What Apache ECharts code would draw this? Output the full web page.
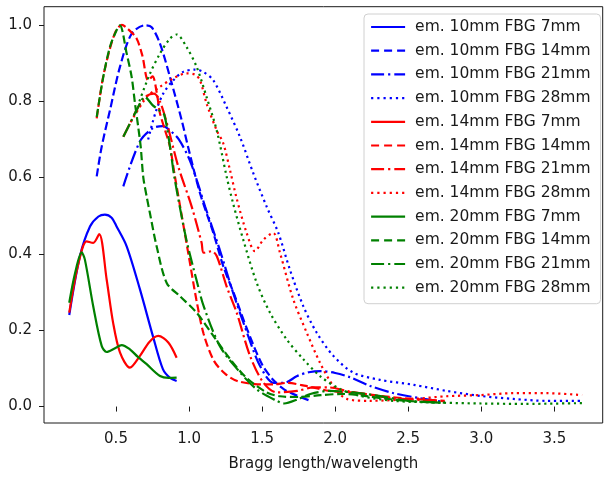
<!DOCTYPE html>
<html><head><meta charset="utf-8">
<script src="https://cdn.jsdelivr.net/npm/echarts@6/dist/echarts.min.js"></script>
<style>html,body{margin:0;padding:0;background:#fff}#c{width:605px;height:477px}</style>
</head><body><div id="c"></div>
<script>
// ---- data ----
const seriesNames = [
  'em. 10mm FBG 7mm','em. 10mm FBG 14mm','em. 10mm FBG 21mm','em. 10mm FBG 28mm',
  'em. 14mm FBG 7mm','em. 14mm FBG 14mm','em. 14mm FBG 21mm','em. 14mm FBG 28mm',
  'em. 20mm FBG 7mm','em. 20mm FBG 14mm','em. 20mm FBG 21mm','em. 20mm FBG 28mm'
];
const xTicks = [0.5, 1.0, 1.5, 2.0, 2.5, 3.0, 3.5];
const yTicks = [0.0, 0.2, 0.4, 0.6, 0.8, 1.0];

// em. 10mm
const x10_7  = [0.18,0.253,0.322,0.38,0.424,0.47,0.504,0.573,0.664,0.753,0.821,0.87,0.915];
const y10_7  = [0.24,0.394,0.472,0.498,0.503,0.495,0.472,0.42,0.307,0.184,0.098,0.075,0.067];
const x10_14 = [0.368,0.402,0.459,0.527,0.607,0.698,0.744,0.801,0.869,0.949,1.0,1.075,1.166,1.234,1.314,1.4,1.5,1.58,1.65,1.73,1.83];
const y10_14 = [0.603,0.681,0.777,0.89,0.977,0.999,0.994,0.951,0.864,0.751,0.67,0.559,0.455,0.368,0.289,0.2,0.11,0.068,0.045,0.03,0.015];
const x10_21 = [0.55,0.664,0.755,0.82,0.88,0.93,1.0,1.06,1.11,1.21,1.3,1.4,1.485,1.58,1.65,1.74,1.82,1.9,2.0,2.1,2.24,2.4,2.58,2.75];
const y10_21 = [0.577,0.695,0.73,0.735,0.72,0.70,0.65,0.585,0.524,0.411,0.30,0.19,0.107,0.062,0.062,0.08,0.09,0.093,0.088,0.077,0.054,0.035,0.022,0.012];
const x10_28 = [0.72,0.77,0.823,0.892,0.96,1.04,1.097,1.166,1.257,1.348,1.44,1.531,1.611,1.69,1.782,1.873,1.987,2.124,2.307,2.535,2.763,2.991,3.219,3.447,3.69];
const y10_28 = [0.70,0.77,0.82,0.855,0.877,0.883,0.877,0.855,0.785,0.707,0.611,0.524,0.455,0.359,0.263,0.194,0.133,0.089,0.07,0.057,0.041,0.028,0.02,0.015,0.015];
// em. 14mm
const x14_7  = [0.18,0.24,0.299,0.344,0.385,0.436,0.48,0.527,0.595,0.664,0.73,0.789,0.858,0.915];
const y14_7  = [0.246,0.37,0.433,0.429,0.452,0.333,0.22,0.142,0.102,0.133,0.17,0.185,0.168,0.128];
const x14_14 = [0.368,0.41,0.46,0.50,0.54,0.58,0.64,0.68,0.72,0.75,0.78,0.80,0.835,0.87,0.9,0.95,1.0,1.05,1.1,1.17,1.25,1.33,1.45,1.58,1.67,1.8,1.96,2.12,2.3,2.53,2.75];
const y14_14 = [0.755,0.86,0.94,0.985,1.0,0.99,0.965,0.92,0.855,0.865,0.82,0.77,0.725,0.68,0.61,0.5,0.39,0.28,0.19,0.12,0.085,0.067,0.059,0.058,0.062,0.054,0.041,0.037,0.028,0.02,0.015];
const x14_21 = [0.55,0.6,0.641,0.698,0.76,0.8,0.85,0.926,1.018,1.086,1.1,1.155,1.19,1.257,1.326,1.417,1.508,1.6,1.74,1.85,1.96,2.08,2.2,2.4,2.6,2.75];
const y14_21 = [0.707,0.745,0.777,0.811,0.82,0.80,0.74,0.629,0.524,0.429,0.403,0.407,0.394,0.315,0.246,0.133,0.063,0.037,0.041,0.05,0.05,0.041,0.033,0.022,0.017,0.014];
const x14_28 = [0.6,0.71,0.801,0.892,0.983,1.04,1.075,1.12,1.189,1.234,1.28,1.326,1.394,1.451,1.508,1.576,1.622,1.713,1.805,1.896,1.987,2.079,2.238,2.535,2.763,2.991,3.219,3.447,3.69];
const y14_28 = [0.745,0.811,0.838,0.86,0.873,0.87,0.855,0.794,0.724,0.69,0.62,0.545,0.455,0.407,0.437,0.455,0.403,0.281,0.194,0.115,0.054,0.02,0.015,0.02,0.027,0.03,0.035,0.035,0.03];
// em. 20mm
const x20_7  = [0.18,0.22,0.265,0.287,0.344,0.402,0.436,0.49,0.539,0.595,0.65,0.71,0.801,0.86,0.915];
const y20_7  = [0.272,0.35,0.404,0.385,0.263,0.159,0.143,0.152,0.161,0.15,0.13,0.111,0.08,0.075,0.076];
const x20_14 = [0.368,0.413,0.459,0.504,0.527,0.573,0.607,0.63,0.652,0.669,0.687,0.71,0.732,0.778,0.847,0.938,1.052,1.166,1.28,1.394,1.531,1.622,1.75,1.9,2.05,2.2,2.4,2.6,2.75];
const y20_14 = [0.759,0.864,0.943,0.986,0.999,0.925,0.864,0.794,0.733,0.681,0.60,0.55,0.507,0.42,0.324,0.289,0.246,0.185,0.125,0.075,0.037,0.027,0.025,0.03,0.033,0.028,0.018,0.012,0.01];
const x20_21 = [0.55,0.6,0.641,0.698,0.75,0.8,0.83,0.87,0.9,0.98,1.05,1.1,1.21,1.33,1.46,1.6,1.65,1.75,1.83,1.96,2.12,2.3,2.5,2.75];
const y20_21 = [0.707,0.745,0.777,0.811,0.79,0.775,0.765,0.68,0.6,0.44,0.333,0.263,0.159,0.098,0.046,0.015,0.008,0.02,0.033,0.041,0.037,0.028,0.015,0.01];
const x20_28 = [0.66,0.732,0.801,0.869,0.915,0.983,1.052,1.12,1.189,1.257,1.303,1.371,1.463,1.554,1.668,1.782,1.896,2.033,2.17,2.4,2.75,3.0,3.3,3.69];
const y20_28 = [0.80,0.872,0.925,0.964,0.975,0.942,0.89,0.811,0.724,0.603,0.53,0.437,0.324,0.246,0.176,0.124,0.08,0.046,0.028,0.015,0.01,0.008,0.007,0.009];

const seriesX = [x10_7,x10_14,x10_21,x10_28,x14_7,x14_14,x14_21,x14_28,x20_7,x20_14,x20_21,x20_28];
const seriesY = [y10_7,y10_14,y10_21,y10_28,y14_7,y14_14,y14_21,y14_28,y20_7,y20_14,y20_21,y20_28];

// ---- styles ----
const LW = 2.2;
const colors = ['#0000ff','#0000ff','#0000ff','#0000ff','#ff0000','#ff0000','#ff0000','#ff0000','#008000','#008000','#008000','#008000'];
const dashStyles = {
  solid: 'solid',
  dashed: [8.2, 3.6],
  dashdot: [14, 3.6, 2.2, 3.6],
  dotted: [2.2, 3.7]
};
const legendDash = {
  solid: 'solid',
  dashed: [8, 5],
  dashdot: [13, 4, 2.2, 4],
  dotted: [2.2, 4]
};
const lineKinds = ['solid','dashed','dashdot','dotted'];

const FONT = 'DejaVu Sans';
const series = seriesNames.map((name, i) => ({
  name,
  type: 'line',
  data: seriesX[i].map((x, j) => [x, seriesY[i][j]]),
  showSymbol: false,
  symbol: 'none',
  smooth: 0.3,
  lineStyle: { color: colors[i], width: LW, type: dashStyles[lineKinds[i % 4]], cap: 'butt' },
  itemStyle: { color: colors[i] },
  emphasis: { disabled: true }
}));

const legendData = seriesNames.map((name, i) => ({
  name,
  itemStyle: { opacity: 0, color: 'rgba(0,0,0,0)', borderWidth: 0 },
  lineStyle: { color: colors[i], width: LW, type: legendDash[lineKinds[i % 4]], cap: 'butt', opacity: 1 }
}));

const chart = echarts.init(document.getElementById('c'), null, { renderer: 'canvas' });
chart.setOption({
  animation: false,
  backgroundColor: '#ffffff',
  grid: { left: 44, right: 2.3, top: 6.7, bottom: 52.5, show: true, borderColor: '#1a1a1a', borderWidth: 1, backgroundColor: 'transparent' },
  xAxis: {
    type: 'value', min: 0.0072, max: 3.831,
    name: 'Bragg length/wavelength', nameLocation: 'middle', nameGap: 34,
    nameTextStyle: { fontFamily: FONT, fontSize: 15, color: '#1a1a1a' },
    axisLine: { show: false },
    axisTick: { show: true, customValues: xTicks, length: 5, lineStyle: { color: '#1a1a1a', width: 1 } },
    axisLabel: { customValues: xTicks, formatter: v => v.toFixed(1), fontFamily: FONT, fontSize: 15, color: '#1a1a1a', margin: 9 },
    splitLine: { show: false }
  },
  yAxis: {
    type: 'value', min: -0.0431, max: 1.0478,
    axisLine: { show: false },
    axisTick: { show: true, customValues: yTicks, length: 5, lineStyle: { color: '#1a1a1a', width: 1 } },
    axisLabel: { customValues: yTicks, formatter: v => v.toFixed(1), fontFamily: FONT, fontSize: 15, color: '#1a1a1a', margin: 12 },
    splitLine: { show: false }
  },
  legend: {
    orient: 'vertical', left: 364, top: 14,
    data: legendData,
    itemWidth: 34, itemHeight: 14, itemGap: 7.7,
    padding: [5, 10, 8, 6],
    backgroundColor: '#ffffff', borderColor: '#d0d0d0', borderWidth: 1, borderRadius: 4,
    selectedMode: false,
    itemStyle: { opacity: 0 },
    textStyle: { fontFamily: FONT, fontSize: 15.5, color: '#1a1a1a', padding: [0, 0, 0, 5] }
  },
  series
});
</script>
</body></html>
